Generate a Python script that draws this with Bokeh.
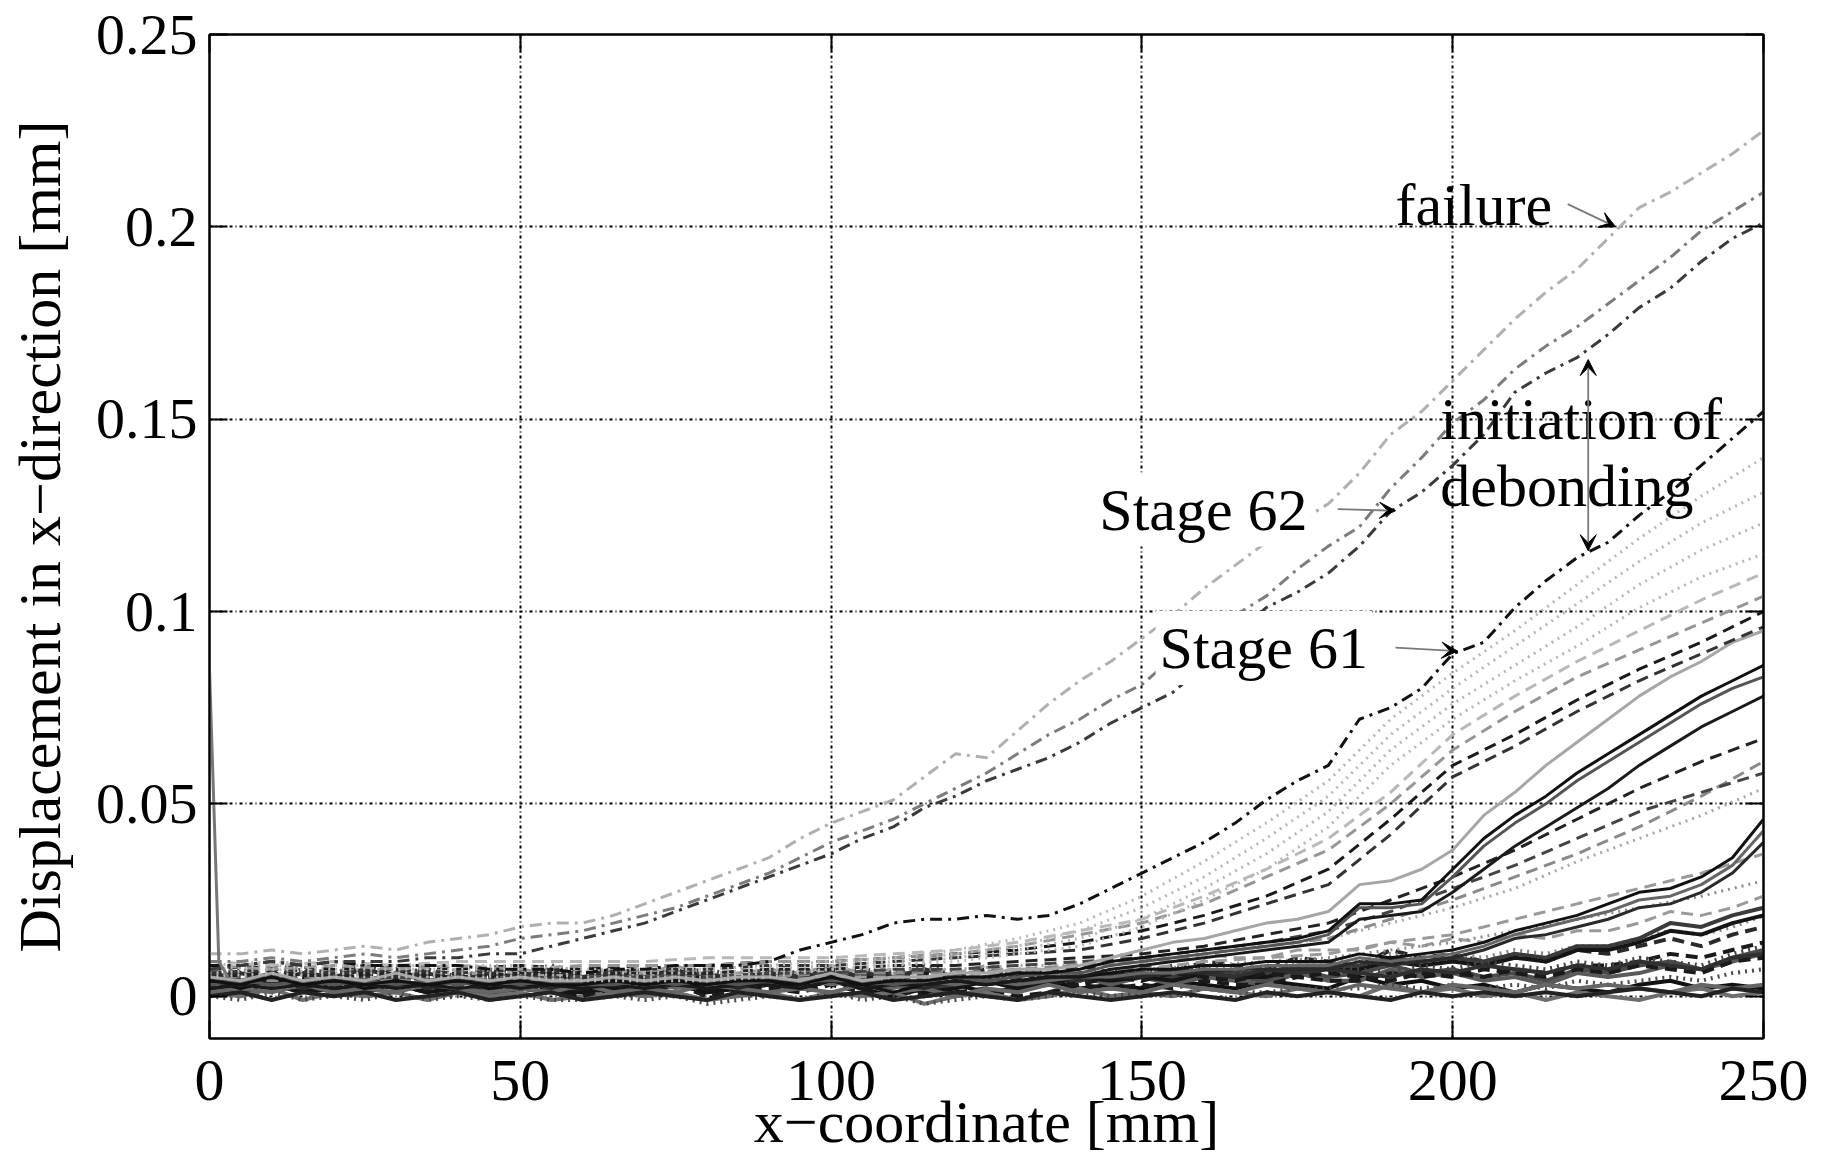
import numpy as np
from bokeh.plotting import figure
from bokeh.models import (LinearAxis, FixedTicker, CustomJSTickFormatter, Label,
                          Arrow, VeeHead, Range1d)
from bokeh.embed import file_html
from bokeh.resources import INLINE

# ---------------- data ----------------
X5 = list(range(0, 251, 5))      # x-coordinate [mm], 5 mm steps
X10 = list(range(0, 251, 10))    # x-coordinate [mm], 10 mm steps
X_TICKS = [0, 50, 100, 150, 200, 250]
Y_TICKS = [0, 0.05, 0.1, 0.15, 0.2, 0.25]
SPIKE_X = [0, 1.5, 3]
SPIKE_UM = [85, 9, 5]

# displacement values in micrometres (0.001 mm)
# early stages (bottom band)
B1 = [3,2,4,2,3,1,3,2,4,2, 3,2,1,3,2,3,1,2,3,2, 4,2,0,2,3,1,2,4,2,3, 2,4,3,2,4,3,2,5,3,4, 2,3,1,3,2,1,3,4,2,3, 2]
B2 = [5,4,6,3,5,4,6,4,5,3, 5,4,3,5,4,6,3,4,5,3, 6,4,5,2,4,5,3,4,6,5, 6,4,6,5,4,7,5,6,8,6, 7,5,6,4,7,6,8,9,7,10, 12]
B3 = [1,0,2,-1,1,0,1,-1,1,0, 1,-1,0,1,0,1,-1,0,1,-1, 1,0,1,-2,0,1,-1,0,2,0, 1,0,2,1,0,2,1,0,3,1, 2,0,1,-1,1,0,-1,1,2,0, 1]
B4 = [6,5,7,5,6,5,7,5,6,4, 6,5,4,6,5,7,4,5,6,5, 7,5,6,4,5,7,5,6,8,6, 8,6,9,8,7,10,9,8,12,10, 11,9,11,9,12,11,13,15,13,16, 18]
B5 = [4,3,5,3,4,3,5,3,4,3, 4,3,3,4,3,5,3,4,4,3, 5,3,4,3,4,5,3,5,6,5, 7,6,8,7,7,9,9,9,11,10, 11,10,12,11,13,13,15,17,16,18, 21]
B6 = [4,3,5,2,4,3,4,2,4,3, 4,2,2,4,3,4,2,3,4,2, 5,3,4,1,3,4,2,3,5,3, 5,3,5,4,3,6,4,4,7,5, 6,4,5,3,6,5,6,8,7,9, 11]
B7 = [2,2,3,1,3,2,3,1,3,1, 2,1,0,2,1,3,0,1,2,1, 3,1,2,0,1,2,0,1,3,2, 3,2,4,3,3,5,4,4,6,5, 6,5,7,6,8,8,9,11,10,12, 14]
B8 = [7,6,8,6,7,6,8,6,7,5, 7,6,5,7,6,8,5,6,7,6, 8,6,7,5,6,8,6,7,9,8, 10,9,11,10,10,12,12,12,14,13, 15,14,16,15,17,17,19,22,21,23, 26]
B9 = [0,-1,1,-1,0,-1,1,-1,0,-1, 0,-1,-1,0,-1,0,-2,-1,0,-1, 1,-1,0,-2,-1,0,-1,0,1,0, 1,0,2,1,1,2,2,2,3,2, 3,2,3,2,4,3,4,5,4,6, 7]
B10 = [3,3,4,2,4,3,4,2,4,2, 3,3,2,4,3,4,2,3,4,3, 5,3,4,2,3,5,3,4,6,5, 6,5,7,6,6,8,8,8,10,9, 10,9,11,10,13,13,15,19,18,21, 23]
B11 = [2,1,3,1,2,1,3,1,2,1, 2,1,1,2,1,3,1,2,3,2, 4,2,3,1,2,4,2,3,5,4, 5,4,6,5,5,7,7,7,9,8, 9,8,10,9,12,12,14,17,16,19, 21]
B12 = [5,6,4,6,5,7,5,6,4,6, 5,7,5,6,4,5,6,4,6,5, 4,6,5,7,5,4,6,5,4,6, 5,7,6,5,7,6,7,6,5,7, 6,8,7,6,8,7,9,8,7,10, 11]
B13 = [1,2,1,3,1,2,1,3,2,1, 2,1,3,1,2,1,3,2,1,2, 1,3,1,2,0,2,1,3,1,2, 1,3,2,1,3,2,1,3,2,1, 3,2,1,3,2,3,2,1,3,2, 3]
B14 = [4,5,3,5,4,6,4,5,3,5, 4,6,4,5,3,4,5,3,5,4, 3,5,4,6,4,3,5,4,3,5, 4,6,5,4,6,5,6,5,4,6, 5,7,6,5,7,6,8,7,6,9, 10]
B15 = [6,7,5,7,6,8,6,7,5,7, 6,8,6,7,5,6,7,5,7,6, 5,7,6,8,6,5,7,6,5,7, 6,8,7,6,8,7,8,7,6,8, 7,9,8,7,9,8,10,9,8,11, 13]
B16 = [0,1,-1,1,0,1,-1,0,1,-1, 0,1,-1,0,1,0,-1,1,0,-1, 0,1,-1,0,1,0,-1,1,0,-1, 0,1,0,-1,1,0,1,0,-1,1, 0,1,0,1,0,1,2,1,0,2, 1]

# middle stages, solid (5 mm steps)
M1 = [4,2,4,3,4,2,3,3,4,2, 3,3,2,4,3,4,2,3,4,2, 4,3,1,3,4,3,4,5,5,6, 7,7,8,8,9,9,9,11,10,11, 12,14,17,19,21,24,27,28,31,36, 46]
M2 = [3,4,2,4,3,4,2,4,3,4, 2,4,3,3,4,2,3,4,3,4, 3,4,2,4,3,4,3,4,5,5, 6,6,7,7,8,8,8,10,9,10, 11,13,16,18,20,22,25,26,29,34, 43]
M3 = [5,3,5,2,4,3,5,2,4,3, 4,2,4,3,5,3,4,2,4,3, 5,2,3,2,4,3,4,4,5,5, 5,6,6,7,7,7,7,9,8,9, 10,12,15,16,18,20,23,24,27,32, 40]
SL = [5,4,6,4,5,4,6,4,5,4, 5,4,4,5,4,5,4,5,5,4, 6,4,5,5,6,6,7,7,8,10, 12,14,15,17,19,20,22,29,30,33, 38,47,53,60,66,72,78,83,87,92, 95]
SD1 = [4,3,5,3,4,3,4,3,4,3, 4,3,3,4,3,4,3,4,4,3, 5,3,4,4,5,5,6,6,7,9, 10,11,12,13,14,15,17,24,24,25, 33,41,47,52,58,63,68,73,78,82, 86]
SD2 = [3,4,3,4,3,4,3,4,3,4, 3,4,3,3,4,3,4,3,4,4, 4,4,3,4,5,4,5,6,6,8, 9,10,11,12,13,14,16,23,23,24, 31,39,45,50,56,61,66,71,76,80, 83]
SD3 = [2,3,2,3,2,3,2,3,2,3, 2,3,2,3,2,3,2,3,3,2, 4,2,3,3,4,3,4,5,5,7, 8,9,10,11,12,13,14,20,21,22, 27,33,39,44,49,54,60,65,70,74, 78]

# dashed / dotted stages (10 mm steps)
D1 = [8,9,8,8,8,8,7,7,7,8, 9,10,12,15,19,26,35,45,56,72, 84,95,107,119,130,140]
D2 = [7,8,7,7,7,7,6,6,6,7, 8,9,11,13,17,23,31,41,52,68, 80,91,102,113,123,131]
D3 = [6,7,6,6,6,6,5,5,5,6, 7,8,10,12,15,20,28,37,48,64, 76,86,96,107,116,123]
D4 = [5,6,5,5,5,5,4,4,4,5, 7,8,9,11,13,18,25,33,44,60, 72,82,91,101,109,115]
D5 = [6,5,6,5,6,5,6,6,6,6, 7,7,7,8,8,9,11,13,15,19, 23,28,35,41,47,54]
D6 = [3,2,3,2,3,2,3,3,3,3, 4,4,4,5,6,7,8,9,10,12, 14,17,20,23,26,30]
G1 = [8,7,8,7,8,7,8,8,8,9, 9,10,11,13,16,19,24,31,38,50, 64,74,83,90,97,104]
G2 = [9,8,9,8,9,9,9,9,10,10, 10,11,12,14,17,20,26,33,41,53, 68,78,87,95,103,110]
G3 = [5,4,5,4,5,4,5,5,5,5, 6,6,6,7,8,9,11,13,15,20, 25,31,37,44,52,61]
G4 = [4,3,4,3,4,3,4,4,4,4, 5,5,5,6,6,7,9,10,11,14, 16,20,24,28,32,37]
K1 = [7,8,7,8,7,8,7,8,8,9, 9,10,11,12,14,17,21,26,33,46, 60,68,77,85,92,100]
K2 = [6,7,6,7,6,7,6,7,7,8, 8,9,10,11,12,15,19,24,29,42, 57,65,74,82,89,96]
K3 = [5,6,5,6,5,6,6,6,6,7, 7,8,8,9,10,11,13,16,19,25, 31,38,46,54,61,67]
K4 = [4,5,4,5,4,5,5,5,5,6, 6,7,7,8,9,10,12,14,17,22, 28,34,41,48,53,58]

# last stages (5 mm steps)
STAGE61 = [8,8,9,8,9,8,8,8,8,7, 7,7,6,7,7,8,8,8,9,12, 14,16,19,20,20,21,20,21,24,28,
           32,36,40,45,51,56,60,72,75,80, 89,92,101,108,114,118,125,131,138,145, 152]
STAGE62 = [7,8,9,8,9,9,9,10,10,11, 11,13,15,17,19,22,25,28,31,34, 37,41,44,49,52,56,59,62,66,71,
           75,79,86,94,101,105,110,117,126,131, 138,146,157,162,166,172,179,184,191,197, 201]
STAGE63 = [9,9,10,9,10,11,10,11,12,13, 15,16,17,19,21,23,26,29,32,36, 40,43,46,50,54,58,63,68,72,77,
           81,88,94,99,104,111,117,122,132,140, 149,155,163,169,174,180,186,192,199,204, 209]
FAILURE = [11,11,12,11,12,13,12,14,15,16, 18,19,19,21,24,27,30,33,36,41, 45,48,51,57,63,62,69,76,82,87,
           93,99,106,112,118,123,128,136,146,152, 160,168,176,183,189,197,205,209,214,219, 225]

# annotation texts and anchor points (data units, vertical centre of the text)
ANN_TEXT = ["failure", "Stage 62", "Stage 61", "initiation of", "debonding"]
ANN_X = [190.8, 142.5, 152.2, 198.0, 198.0]
ANN_Y = [0.2058, 0.1265, 0.0905, 0.1500, 0.1325]

# ---------------- styles ----------------
DASHED = "12 7"
DOTTED = "2 5"
DASHDOT = "12 6 3 6"
FONT = "Liberation Serif"
FS = "60px"
LW = 3.0
LW_BAND = 4.0

series = [
    # (grid, values, colour, dash, width)
    (X5, B1, "#111111", "solid", LW_BAND), (X5, B2, "#4a4a4a", "solid", LW_BAND),
    (X5, B3, "#6e6e6e", "solid", LW_BAND), (X5, B4, "#2a2a2a", DASHED, LW_BAND),
    (X5, B5, "#888888", DOTTED, LW_BAND), (X5, B6, "#5a5a5a", "solid", LW_BAND),
    (X5, B7, "#1a1a1a", DASHED, LW_BAND), (X5, B8, "#999999", DASHED, LW),
    (X5, B9, "#4a4a4a", DOTTED, LW_BAND), (X5, B10, "#3a3a3a", "solid", LW_BAND),
    (X5, B11, "#151515", "solid", LW_BAND), (X5, B12, "#303030", "solid", LW_BAND),
    (X5, B13, "#666666", "solid", LW_BAND), (X5, B14, "#1a1a1a", DASHED, LW_BAND),
    (X5, B15, "#444444", DOTTED, LW_BAND), (X5, B16, "#222222", "solid", LW_BAND),
    (X10, D6, "#8c8c8c", DOTTED, LW), (X10, G4, "#9a9a9a", DASHED, LW),
    (X5, M3, "#2a2a2a", "solid", LW), (X5, M2, "#666666", "solid", LW), (X5, M1, "#111111", "solid", LW),
    (X10, D5, "#a8a8a8", DOTTED, LW), (X10, G3, "#8a8a8a", DASHED, LW),
    (X10, K4, "#444444", DASHED, LW), (X10, K3, "#222222", DASHED, LW),
    (X5, SD3, "#1a1a1a", "solid", LW), (X5, SD2, "#555555", "solid", LW), (X5, SD1, "#111111", "solid", LW),
    (X5, SL, "#a6a6a6", "solid", LW),
    (X10, K2, "#333333", DASHED, LW), (X10, K1, "#1a1a1a", DASHED, LW),
    (X10, G1, "#969696", DASHED, LW), (X10, G2, "#b8b8b8", DASHED, LW),
    (X10, D4, "#b8b8b8", DOTTED, LW), (X10, D3, "#b8b8b8", DOTTED, LW),
    (X10, D2, "#b8b8b8", DOTTED, LW), (X10, D1, "#b8b8b8", DOTTED, LW),
    (X5, STAGE61, "#111111", DASHDOT, LW), (X5, STAGE62, "#3a3a3a", DASHDOT, LW),
    (X5, STAGE63, "#7c7c7c", DASHDOT, LW), (X5, FAILURE, "#b0b0b0", DASHDOT, LW),
]

p = figure(width=1822, height=1158, output_backend="svg", toolbar_location=None,
           x_range=Range1d(0, 250), y_range=Range1d(-0.011, 0.25),
           min_border_left=209, min_border_right=59, min_border_top=34, min_border_bottom=120,
           background_fill_color="white", border_fill_color="white")
p.outline_line_color = "black"
p.outline_line_width = 2

for grid, vals, col, dash, lw in series:
    assert len(grid) == len(vals)
    p.line(grid, np.array(vals) / 1000.0, line_color=col, line_width=lw, line_dash=dash)
p.line(SPIKE_X, np.array(SPIKE_UM) / 1000.0, line_color="#777777", line_width=LW)

# axes
xt = FixedTicker(ticks=X_TICKS)
yt = FixedTicker(ticks=Y_TICKS)
p.xaxis.ticker = xt
p.yaxis.ticker = yt
p.xgrid.ticker = xt
p.ygrid.ticker = yt
p.yaxis.formatter = CustomJSTickFormatter(code="return tick.toString();")
for ax in (p.xaxis[0], p.yaxis[0]):
    ax.major_tick_in = 18
    ax.major_tick_out = 0
    ax.minor_tick_line_color = None
    ax.axis_line_width = 2
    ax.major_tick_line_width = 2
    ax.major_label_text_font = FONT
    ax.major_label_text_font_size = FS
    ax.major_label_text_color = "black"
    ax.axis_label_text_font = FONT
    ax.axis_label_text_font_size = FS
    ax.axis_label_text_font_style = "normal"
    ax.axis_label_text_color = "black"
p.yaxis.major_label_text_font_size = "58px"
p.xaxis.axis_label = "x\u2212coordinate [mm]"
p.yaxis.axis_label = "Displacement in x\u2212direction [mm]"
p.xaxis.major_label_standoff = 22
p.xaxis.axis_label_standoff = -14
p.yaxis.major_label_standoff = 12
p.yaxis.axis_label_standoff = 20

for side, tk in (("right", yt), ("above", xt)):
    ax = LinearAxis(ticker=tk, major_tick_in=18, major_tick_out=0, minor_tick_line_color=None,
                    axis_line_width=2, major_tick_line_width=2,
                    major_label_text_color=None, major_label_text_font_size="1px",
                    major_label_standoff=0)
    p.add_layout(ax, side)

for g in (p.xgrid[0], p.ygrid[0]):
    g.grid_line_color = "#000000"
    g.grid_line_width = 2
    g.grid_line_dash = "3 3 1 3"

# annotations
for t, x, y in zip(ANN_TEXT, ANN_X, ANN_Y):
    kw = {}
    if t.startswith("Stage"):
        kw = dict(background_fill_color="white", padding=4)
    p.add_layout(Label(x=x, y=y, text=t, text_font=FONT, text_font_size=FS,
                       text_color="black", text_align="left", text_baseline="middle", **kw))

head = dict(size=16, fill_color="black", line_color="black")
ARROWS = [((218.5, 0.2059), (226.2, 0.2000)),
          ((181.5, 0.1266), (190.8, 0.1262)),
          ((190.8, 0.0906), (200.8, 0.0897))]
for (x0, y0), (x1, y1) in ARROWS:
    p.add_layout(Arrow(end=VeeHead(**head), x_start=x0, y_start=y0, x_end=x1, y_end=y1,
                       line_color="#7a7a7a", line_width=1.8))
p.add_layout(Arrow(start=VeeHead(**head), end=VeeHead(**head), x_start=221.8, y_start=0.1158,
                   x_end=221.8, y_end=0.1655, line_color="#7a7a7a", line_width=1.8))

open("out.html", "w").write(file_html(p, INLINE))
